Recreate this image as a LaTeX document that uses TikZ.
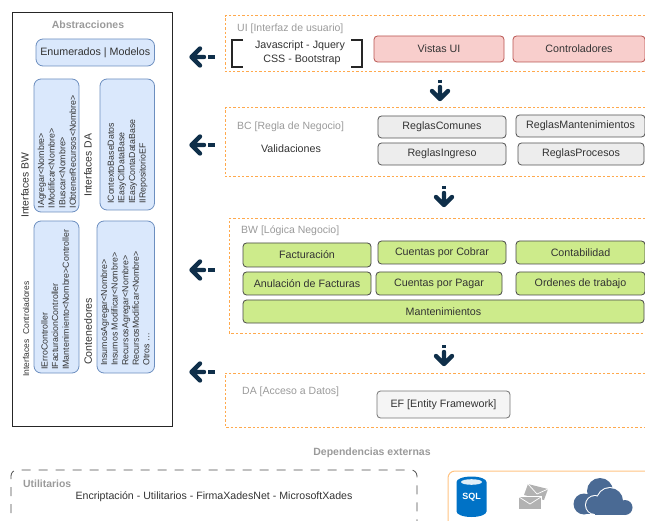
\documentclass[tikz,border=0pt]{standalone}
\usepackage{fontspec}
\setmainfont{Liberation Sans}
\definecolor{navy}{HTML}{0F2F4A}
\definecolor{lay}{HTML}{FFA94D}
\definecolor{lbl}{HTML}{9A9A9A}
\definecolor{txt}{HTML}{333333}
\definecolor{bfill}{HTML}{DAE8FC}
\definecolor{bline}{HTML}{6C8EBF}
\definecolor{rfill}{HTML}{F8CECC}
\definecolor{rline}{HTML}{B85450}
\definecolor{gfill}{HTML}{CDEB8B}
\definecolor{cloudc}{HTML}{4A6A94}
\definecolor{sqlc}{HTML}{0072C6}
\tikzset{
  x=1pt,y=-1pt,
  base/.style={draw,rounded corners=3.5pt,line width=0.8pt,inner sep=0pt,font=\fontsize{10.7}{12}\selectfont,text=txt},
  abox/.style={base,rounded corners=7pt,draw=bline,fill=bfill},
  redbox/.style={base,draw=rline,fill=rfill},
  graybox/.style={base,draw=black!68,fill=black!7},
  efbox/.style={base,draw=black!55,fill=black!4},
  greenbox/.style={base,draw=black!72,fill=gfill},
  layer/.style={draw=lay,dash pattern=on 2.4pt off 2pt,line width=1pt},
  head/.style={font=\fontsize{10.5}{12}\selectfont,text=lbl,anchor=west,inner sep=0pt},
  boldhead/.style={font=\bfseries\fontsize{10.5}{12}\selectfont,text=lbl,inner sep=0pt},
  plain/.style={font=\fontsize{10.7}{12}\selectfont,text=txt,inner sep=0pt},
  vlabel/.style={rotate=90,anchor=west,inner sep=0pt,text=txt,font=\fontsize{10.4}{12}\selectfont},
  vsmall/.style={rotate=90,anchor=north west,inner sep=0pt,align=left,text=txt,font=\fontsize{8.8}{10.6}\selectfont},
  fat/.style={draw=navy,line width=4.4pt,line cap=round,line join=round},
}
\newcommand{\pbox}[7][]{\node[#2,minimum width={#5-#3},minimum height={#6-#4},#1] at ({(#3+#5)/2},{(#4+#6)/2}) {#7};}
\newcommand{\larrow}[1]{\draw[fat] (200,#1-8.5) -- (191.5,#1) -- (200,#1+8.5) (191.5,#1) -- (204,#1);\draw[navy,line width=4.4pt] (208,#1) -- (215,#1);}
\newcommand{\darrow}[2]{\draw[fat] (#1-8,#2+11) -- (#1,#2+19) -- (#1+8,#2+11) (#1,#2+19) -- (#1,#2+7);\draw[navy,line width=4.2pt] (#1,#2) -- (#1,#2+3);}
\begin{document}
\begin{tikzpicture}
\useasboundingbox (0,0) rectangle (645,521);
% Abstracciones panel
\node[draw=black!85,line width=0.8pt,minimum width=160.5pt,minimum height=414pt,inner sep=0pt] (panel) at (92.3,219.5) {};
\node[boldhead] (abs) at (88,25) {Abstracciones};
\pbox[name=enum]{abox}{36}{39}{154.5}{66}{Enumerados | Modelos}
\pbox[name=ibw]{abox}{34}{79}{79}{212}{}
\pbox[name=ida]{abox}{100}{79}{154.5}{210}{}
\pbox[name=ictl]{abox}{34}{221}{79}{373}{}
\pbox[name=cont]{abox}{97}{221}{154.5}{373}{}
\node[vlabel] (lbw) at (25,218) {Interfaces BW};
\node[vlabel] (lda) at (88,197) {Interfaces DA};
\node[vlabel,font=\fontsize{8.5}{12}\selectfont] (lctl) at (26,377) {Interfaces\ \ Controladores};
\node[vlabel,font=\fontsize{10.6}{12}\selectfont] (lcont) at (88,365) {Contenedores};
\node[vsmall] (tbw) at (37.5,208.5) {IAgregar<Nombre>\\IModificar<Nombre>\\IBuscar<Nombre>\\IObtenerRecursos<Nombre>};
\node[vsmall] (tda) at (107.5,204) {IContextoBaseDatos\\IEasyCifDataBase\\IEasyContaDataBase\\IIRepositorioEF};
\node[vsmall] (tctl) at (41,370) {IErroController\\IFacturacionController\\IMantenimiento<Nombre>Controller};
\node[vsmall] (tcont) at (100.5,366) {InsumosAgregar<Nombre>\\Insumos Modificar<Nombre>\\RecursosAgregar<Nombre>\\RecursosModificar<Nombre>\\Otros \dots};
% Left arrows
\larrow{57}\larrow{145}\larrow{270}\larrow{372}
% UI layer
\draw[layer] (645,16) -- (225,16) -- (225,72) -- (645,72);
\node[head] (ui) at (237,29) {UI [Interfaz de usuario]};
\draw[black!85,line width=1.3pt] (243,40) -- (232,40) -- (232,67) -- (243,67);
\draw[black!85,line width=1.3pt] (351,40) -- (362,40) -- (362,67) -- (351,67);
\node[plain] (js) at (300,46) {Javascript - Jquery};
\node[plain] (css) at (302,60) {CSS - Bootstrap};
\pbox[name=vistas]{redbox}{374}{36}{504}{62}{Vistas UI}
\pbox[name=ctrl]{redbox}{513}{36}{645}{62}{Controladores}
\darrow{440}{80}
% BC layer
\draw[layer] (645,108) -- (225,108) -- (225,177) -- (645,177);
\node[head] (bc) at (237,127) {BC [Regla de Negocio]};
\node[plain] (val) at (291,149) {Validaciones};
\pbox[name=rc]{graybox}{378}{116}{506}{138}{ReglasComunes}
\pbox[name=rm]{graybox}{516}{115}{645}{137}{ReglasMantenimientos}
\pbox[name=ri]{graybox}{378}{143}{506}{165}{ReglasIngreso}
\pbox[name=rp]{graybox}{518}{143}{644}{165}{ReglasProcesos}
\darrow{444}{186}
% BW layer
\draw[layer] (645,219) -- (229,219) -- (229,333) -- (645,333);
\node[head] (bwl) at (241,231) {BW [Lógica Negocio]};
\pbox[name=fac]{greenbox}{243}{243}{371}{267}{Facturación}
\pbox[name=cob]{greenbox}{378}{241}{506}{264}{Cuentas por Cobrar}
\pbox[name=con]{greenbox}{516}{241}{645}{264}{Contabilidad}
\pbox[name=anu]{greenbox}{243}{272}{371}{295}{Anulación de Facturas}
\pbox[name=pag]{greenbox}{376}{272}{502}{295}{Cuentas por Pagar}
\pbox[name=ord]{greenbox}{516}{272}{645}{295}{Ordenes de trabajo}
\pbox[name=man]{greenbox}{243}{300}{644}{323}{Mantenimientos}
\darrow{444}{345}
% DA layer
\draw[layer] (645,373) -- (225,373) -- (225,427) -- (645,427);
\node[head] (dal) at (242,392) {DA [Acceso a Datos]};
\pbox[name=ef]{efbox}{377}{391}{510}{418}{EF [Entity Framework]}
% External
\node[boldhead] (dep) at (372,453) {Dependencias externas};
\draw[black!70,line width=0.8pt,dash pattern=on 9pt off 8pt,rounded corners=6pt] (11,530) -- (11,470) -- (417,470) -- (417,530);
\node[font=\bfseries\fontsize{10.4}{12}\selectfont,text=lbl,anchor=west,inner sep=0pt] (uti) at (23,484) {Utilitarios};
\node[font=\fontsize{10.6}{12}\selectfont,text=txt,inner sep=0pt] (enc) at (214,497) {Encriptación - Utilitarios - FirmaXadesNet - MicrosoftXades};
% Icon panel
\draw[lay!70,line width=1pt,rounded corners=7pt] (448,530) -- (448,471) -- (650,471);
% SQL
\fill[sqlc] (456.5,482) -- (456.5,511.5) arc[start angle=180,end angle=0,x radius=15,y radius=5.5] -- (486.5,482) arc[start angle=0,end angle=-180,x radius=15,y radius=5.5] -- cycle;
\fill[white!88!sqlc] (471.5,482) ellipse[x radius=10.5,y radius=2.8];
\node[font=\bfseries\fontsize{9}{10}\selectfont,text=white,inner sep=0pt] (sql) at (471.5,497.5) {SQL};
% Envelopes
\fill[black!30] (528,484) -- (548,489) -- (544,500) -- (524,495) -- cycle;
\draw[white,line width=0.7pt] (528,484) -- (537,494) -- (548,489);
\fill[white] (518,496) rectangle (542,510);
\fill[black!30] (519,497) rectangle (541,509);
\draw[white,line width=0.7pt] (519,497) -- (530,504) -- (541,497);
% Clouds
\fill[cloudc] (584,504) circle[radius=10.5] (600,491) circle[radius=13] (611,499) circle[radius=9];
\fill[cloudc] (584,505) rectangle (612,514);
\draw[white,line width=2pt] (595,505) circle[radius=9] (610,501) circle[radius=13] (625,507.5) circle[radius=7.5];
\fill[cloudc] (595,505) circle[radius=9] (610,501) circle[radius=13] (625,507.5) circle[radius=7.5];
\fill[cloudc] (595,505) rectangle (625,515);
\end{tikzpicture}
\end{document}
